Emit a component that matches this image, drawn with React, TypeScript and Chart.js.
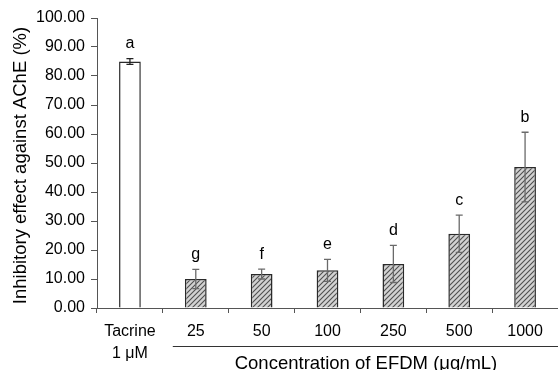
import React, { useEffect, useRef } from "react";
import { Chart, registerables } from "chart.js";

Chart.register(...registerables);

const categories: (string | string[])[] = [["Tacrine", "1 μM"], "25", "50", "100", "250", "500", "1000"];
const meanValues = [85.0, 10.0, 11.7, 13.0, 15.2, 25.6, 48.6];
const errorValues = [1.0, 3.3, 1.7, 3.8, 6.4, 6.4, 12.0];
const groupLetters = ["a", "g", "f", "e", "d", "c", "b"];
const yTicks = [0, 10, 20, 30, 40, 50, 60, 70, 80, 90, 100];
const yTitle = "Inhibitory effect against AChE (%)";
const xTitle = "Concentration of EFDM (μg/mL)";

const FONT = "'Liberation Sans', Arial, sans-serif";

function makeHatch(): CanvasPattern | string {
  const c = document.createElement("canvas");
  const s = 5;
  c.width = s;
  c.height = s;
  const g = c.getContext("2d");
  if (!g) return "#ccc";
  g.fillStyle = "#d2d2d2";
  g.fillRect(0, 0, s, s);
  g.strokeStyle = "#505050";
  g.lineWidth = 1.1;
  g.beginPath();
  g.moveTo(-1, s + 1);
  g.lineTo(s + 1, -1);
  g.moveTo(-1, 1);
  g.lineTo(1, -1);
  g.moveTo(s - 1, s + 1);
  g.lineTo(s + 1, s - 1);
  g.stroke();
  const p = g.createPattern(c, "repeat");
  return p || "#ccc";
}

export default function App() {
  const ref = useRef<HTMLCanvasElement | null>(null);

  useEffect(() => {
    if (!ref.current) return;
    const hatch = makeHatch();

    const overlay = {
      id: "overlay",
      afterDatasetsDraw(chart: any) {
        const ctx = chart.ctx;
        const x = chart.scales.x;
        const y = chart.scales.y;
        ctx.save();
        // error bars + letters
        meanValues.forEach((v, i) => {
          const px = x.getPixelForValue(i);
          const top = y.getPixelForValue(v + errorValues[i]);
          const bot = y.getPixelForValue(v - errorValues[i]);
          ctx.strokeStyle = i === 0 ? "#222" : "#6a6a6a";
          ctx.lineWidth = 1.3;
          ctx.beginPath();
          ctx.moveTo(px, top);
          ctx.lineTo(px, bot);
          ctx.moveTo(px - 3.5, top);
          ctx.lineTo(px + 3.5, top);
          ctx.moveTo(px - 3.5, bot);
          ctx.lineTo(px + 3.5, bot);
          ctx.stroke();
          ctx.fillStyle = "#000";
          ctx.font = `16px ${FONT}`;
          ctx.textAlign = "center";
          ctx.textBaseline = "middle";
          ctx.fillText(groupLetters[i], px, top - 15);
        });
        // y title
        ctx.save();
        ctx.translate(26, 165.5);
        ctx.rotate(-Math.PI / 2);
        ctx.font = `18.5px ${FONT}`;
        ctx.textAlign = "center";
        ctx.textBaseline = "alphabetic";
        ctx.fillStyle = "#000";
        ctx.fillText(yTitle, 0, 0);
        ctx.restore();
        // underline for concentration group
        const x1 = x.getPixelForValue(1);
        const xl = x.getPixelForValue(categories.length - 1);
        const half = (x.getPixelForValue(1) - x.getPixelForValue(0)) / 2;
        ctx.strokeStyle = "#333";
        ctx.lineWidth = 1;
        ctx.beginPath();
        ctx.moveTo(x1 - 23, 346.5);
        ctx.lineTo(xl + half, 346.5);
        ctx.stroke();
        // x title
        ctx.font = `18.5px ${FONT}`;
        ctx.textAlign = "center";
        ctx.textBaseline = "alphabetic";
        ctx.fillStyle = "#000";
        ctx.fillText(xTitle, 366, 369);
        ctx.restore();
      },
    };

    const chart = new Chart(ref.current, {
      type: "bar",
      data: {
        labels: categories,
        datasets: [
          {
            data: meanValues,
            backgroundColor: meanValues.map((_, i) => (i === 0 ? "#ffffff" : hatch)) as any,
            borderColor: "#2a2a2a",
            borderWidth: 1.5,
            borderSkipped: "bottom",
            categoryPercentage: 1,
            barPercentage: 0.33,
          },
        ],
      },
      options: {
        responsive: false,
        animation: false,
        events: [],
        layout: { padding: { top: 18, right: 0, left: 0, bottom: 0 } },
        plugins: { legend: { display: false }, tooltip: { enabled: false } },
        scales: {
          x: {
            offset: true,
            afterFit: (s: any) => {
              s.height = 62;
            },
            grid: {
              offset: true,
              drawOnChartArea: false,
              drawTicks: true,
              tickLength: 5,
              color: "#555",
            },
            border: { display: true, color: "#555", width: 1 },
            ticks: {
              color: "#000",
              padding: 8,
              font: { family: FONT, size: 16, lineHeight: 1.36 },
              maxRotation: 0,
              autoSkip: false,
            },
          },
          y: {
            min: 0,
            max: 100,
            afterFit: (s: any) => {
              s.width = 97;
            },
            afterBuildTicks: (s: any) => {
              s.ticks = yTicks.map((v) => ({ value: v }));
            },
            grid: {
              drawOnChartArea: false,
              drawTicks: true,
              tickLength: 6,
              color: "#555",
            },
            border: { display: true, color: "#555", width: 1 },
            ticks: {
              color: "#000",
              padding: 6,
              font: { family: FONT, size: 16 },
              callback: (v: any) => Number(v).toFixed(2),
            },
          },
        },
      },
      plugins: [overlay],
    });
    return () => chart.destroy();
  }, []);

  return (
    <div style={{ position: "fixed", left: 0, top: 0, width: 558, height: 370, background: "#fff" }}>
      <canvas ref={ref} width={558} height={370} style={{ display: "block" }} />
    </div>
  );
}
